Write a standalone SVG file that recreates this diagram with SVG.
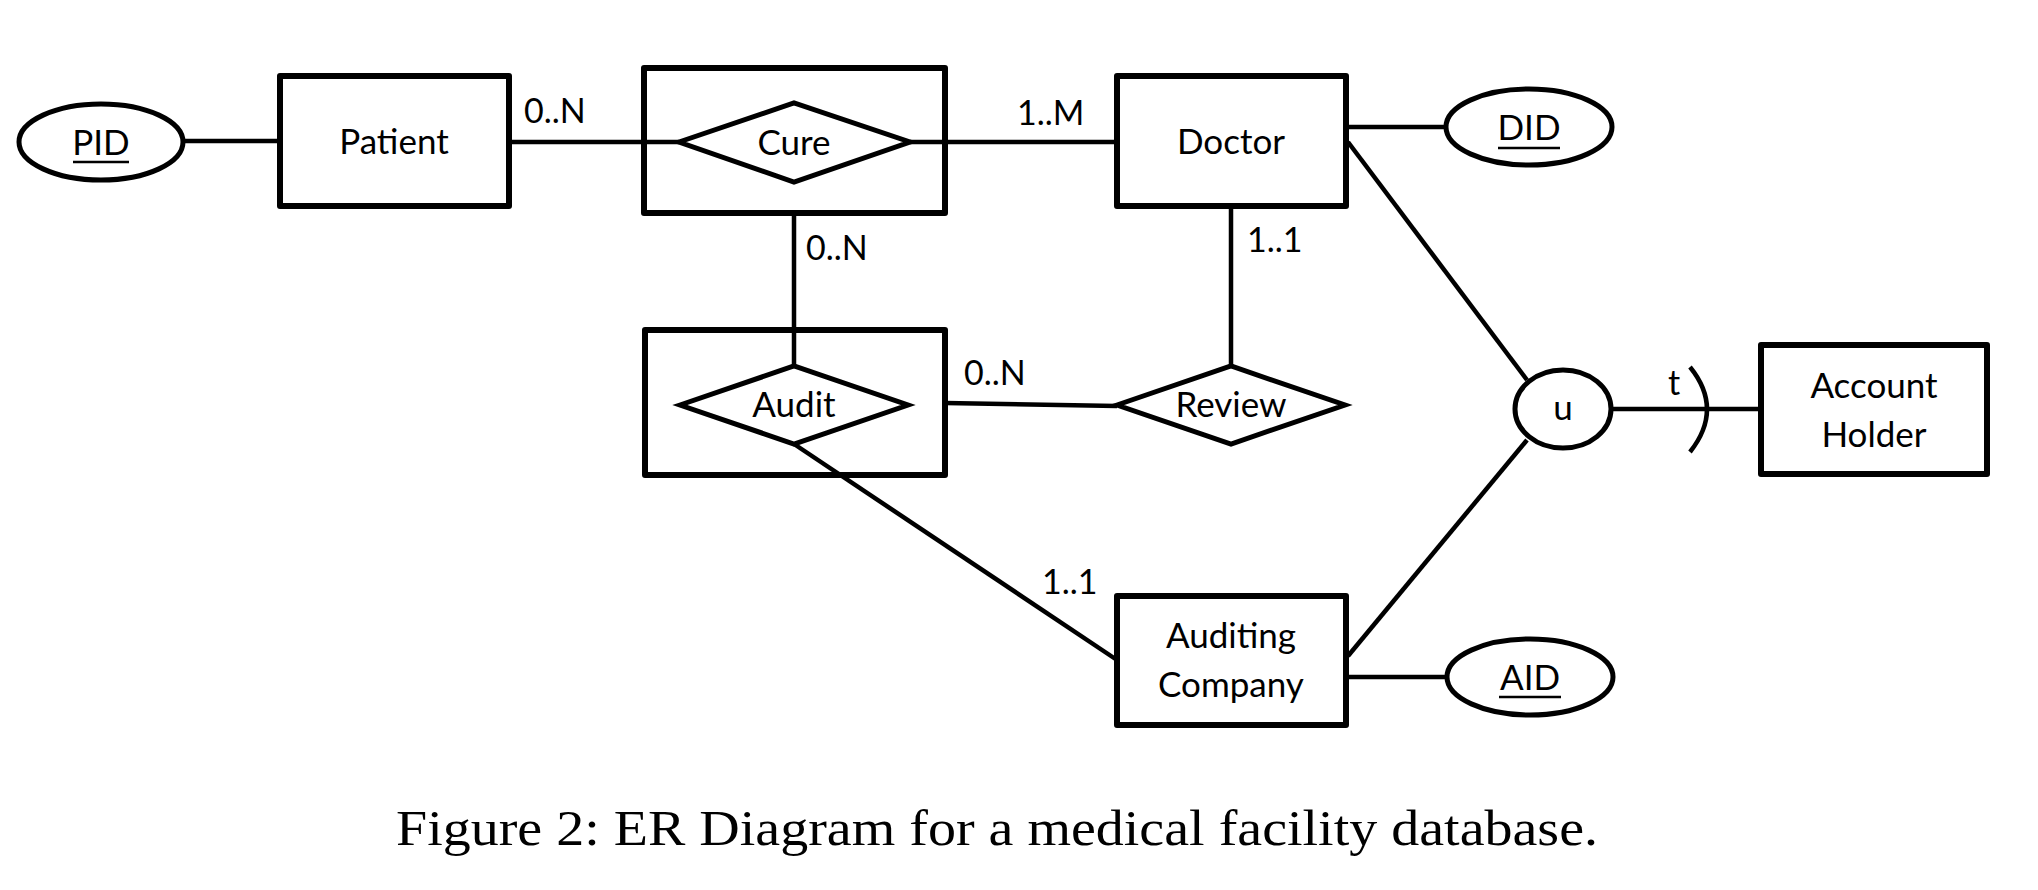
<svg xmlns="http://www.w3.org/2000/svg" width="2038" height="890" viewBox="0 0 2038 890">
<style>
.ent{fill:#fff;stroke:#000;stroke-width:6;stroke-linejoin:round}
.agg{fill:none;stroke:#000;stroke-width:6;stroke-linejoin:round}
.rel{fill:#fff;stroke:#000;stroke-width:5;stroke-linejoin:miter}
.att{fill:#fff;stroke:#000;stroke-width:5}
.ln{fill:none;stroke:#000;stroke-width:4.5}
.ul{stroke:#000;stroke-width:2.5}
.lbl{font-family:Lato,"Open Sans",sans-serif;font-size:35px;fill:#000;text-anchor:middle}
.card{font-family:Lato,"Open Sans",sans-serif;font-size:34px;fill:#000}
.cap{font-family:"Liberation Serif","DejaVu Serif",serif;font-size:50px;fill:#000;text-anchor:middle}
</style>
<rect width="2038" height="890" fill="#fff"/>
<g id="connectors">
<line class="ln" x1="185" y1="141" x2="280" y2="141"/>
<line class="ln" x1="512" y1="142" x2="679" y2="142"/>
<line class="ln" x1="910" y1="142" x2="1117" y2="142"/>
<line class="ln" x1="1346" y1="127" x2="1446" y2="127"/>
<line class="ln" x1="1348" y1="142" x2="1527" y2="380"/>
<line class="ln" x1="794" y1="213" x2="794" y2="366"/>
<line class="ln" x1="945" y1="403" x2="1117" y2="406"/>
<line class="ln" x1="1231" y1="206" x2="1231" y2="366"/>
<line class="ln" x1="1611" y1="409" x2="1760" y2="409"/>
<path class="ln" d="M1690,367 Q1724,409 1690,452"/>
<line class="ln" x1="794" y1="444" x2="1117" y2="660"/>
<line class="ln" x1="1527" y1="440" x2="1348" y2="656"/>
<line class="ln" x1="1346" y1="677" x2="1447" y2="677"/>
<text class="card" x="524" y="123">0..N</text>
<text class="card" x="1017" y="125">1..M</text>
<text class="card" x="806" y="260">0..N</text>
<text class="card" x="1247" y="252">1..1</text>
<text class="card" x="964" y="385">0..N</text>
<text class="card" x="1042" y="594">1..1</text>
<text class="card" x="1668" y="395">t</text>
</g>
<g id="pid">
<ellipse class="att" cx="101" cy="142" rx="82" ry="38"/>
<text class="lbl" x="101" y="155">PID</text>
<line class="ul" x1="73" y1="162" x2="129" y2="162"/>
</g>
<g id="patient">
<rect class="ent" x="280" y="76" width="229" height="130"/>
<text class="lbl" x="394" y="154">Patient</text>
</g>
<g id="cure">
<rect class="agg" x="644" y="68" width="301" height="145"/>
<polygon class="rel" points="679,142 794,103 910,142 794,182"/>
<text class="lbl" x="794" y="155">Cure</text>
</g>
<g id="doctor">
<rect class="ent" x="1117" y="76" width="229" height="130"/>
<text class="lbl" x="1231" y="154">Doctor</text>
</g>
<g id="did">
<ellipse class="att" cx="1529" cy="127" rx="83" ry="38"/>
<text class="lbl" x="1529" y="140">DID</text>
<line class="ul" x1="1498" y1="148" x2="1560" y2="148"/>
</g>
<g id="audit">
<rect class="agg" x="645" y="330" width="300" height="145"/>
<polygon class="rel" points="680,405 794,366 908,405 794,444"/>
<text class="lbl" x="794" y="417">Audit</text>
</g>
<g id="review">
<polygon class="rel" points="1117,405 1231,366 1345,405 1231,444"/>
<text class="lbl" x="1231" y="417">Review</text>
</g>
<g id="union">
<ellipse class="att" cx="1563" cy="409" rx="48" ry="39"/>
<text class="lbl" x="1563" y="420">u</text>
</g>
<g id="account-holder">
<rect class="ent" x="1761" y="345" width="226" height="129"/>
<text class="lbl" x="1874" y="398">Account</text>
<text class="lbl" x="1874" y="447">Holder</text>
</g>
<g id="auditing-company">
<rect class="ent" x="1117" y="596" width="229" height="129"/>
<text class="lbl" x="1231" y="648">Auditing</text>
<text class="lbl" x="1231" y="697">Company</text>
</g>
<g id="aid">
<ellipse class="att" cx="1530" cy="677" rx="83" ry="38"/>
<text class="lbl" x="1530" y="690">AID</text>
<line class="ul" x1="1499" y1="697" x2="1561" y2="697"/>
</g>
<g id="caption">
<text class="cap" x="997" y="845" textLength="1202" lengthAdjust="spacingAndGlyphs">Figure 2: ER Diagram for a medical facility database.</text>
</g>
</svg>
